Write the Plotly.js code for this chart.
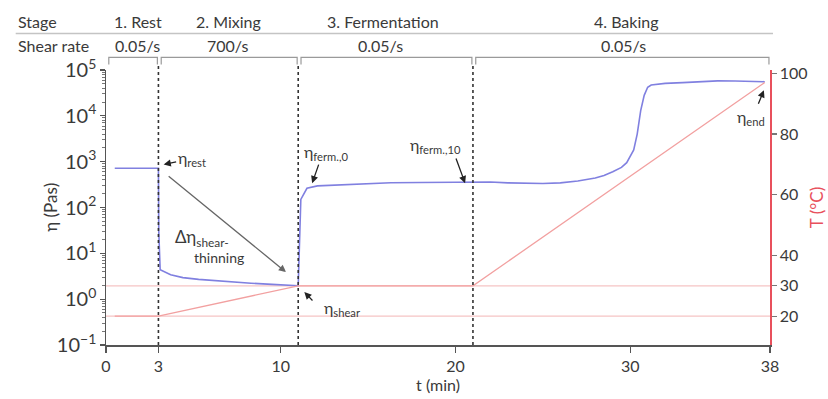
<!DOCTYPE html>
<html>
<head>
<meta charset="utf-8">
<script src="https://cdn.plot.ly/plotly-3.0.1.min.js"></script>
<style>
  html, body { margin: 0; padding: 0; background: #ffffff; }
  #chart { width: 828px; height: 399px; }
</style>
</head>
<body>
<div id="chart"></div>
<script>
// Dough viscosity and temperature over the rest / mixing / fermentation / baking protocol
const stageNames = ['1. Rest', '2. Mixing', '3. Fermentation', '4. Baking'];
const shearRates = ['0.05/s', '700/s', '0.05/s', '0.05/s'];
const stageBounds = [0, 3, 11, 21, 38];   // min

// viscosity eta (Pa·s) vs time (min)
const timeEta = [0.5, 1, 2, 3.0, 3.02, 3.1, 3.7, 4.4, 5.3, 6.4, 7.3, 8.3, 9.5, 10.95,
                 11.0, 11.15, 11.5, 12.1, 13, 14, 15, 16.3, 18, 20.1, 21, 22, 23, 24, 25,
                 26, 27, 28, 28.5, 29, 29.5, 29.8, 30, 30.2, 30.4, 30.6, 30.8, 31, 31.2,
                 31.5, 32, 33, 34, 35, 36, 37, 37.7];
const eta = [716, 716, 716, 716, 30, 4.4, 3.4, 2.95, 2.7, 2.5, 2.35, 2.23, 2.1, 1.96,
             1.96, 150, 263, 296, 305, 310, 325, 347, 350, 355, 358, 360, 345, 335, 335,
             345, 380, 440, 500, 600, 750, 950, 1300, 1800, 4000, 13000, 28000, 42000, 47000,
             49000, 51000, 53000, 55000, 58000, 57500, 56500, 55500];

// temperature (°C) vs time (min)
const timeTemp = [0.5, 3, 11, 21, 37.7];
const temp = [20, 20, 30, 30, 97];

// axis ticks (eta axis: one labelled tick per decade, from 10^-1 to 10^5)
const etaDecadeRange = [-1, 5];
const etaPlainLabels = ['1', '10'];                            // labels printed without exponent
const etaPowerLabels = ['10<sup>0</sup>', '10<sup>1</sup>'];   // shown instead
const tempTickVals = [20, 30, 40, 60, 80, 100];
const timeTickVals = [0, 3, 10, 20, 30, 38];
const tempGuides = [20, 30];

const FONT = 'Lato, "Open Sans", "DejaVu Sans", sans-serif';
const TXT = '#3a3a3a';
const RED = '#e8505c';
const lg = v => Math.log10(v);

const etaAlias = {};
etaPlainLabels.forEach((k, i) => { etaAlias[k] = etaPowerLabels[i]; });

const traces = [
  {
    x: timeEta, y: eta, type: 'scatter', mode: 'lines', yaxis: 'y',
    line: { color: '#8080e0', width: 1.6 }, hoverinfo: 'skip'
  },
  {
    x: timeTemp, y: temp, type: 'scatter', mode: 'lines', yaxis: 'y2',
    line: { color: '#f2a0a0', width: 1.3 }, hoverinfo: 'skip'
  }
];

const shapes = [];
// faint temperature guide lines
tempGuides.forEach(v => shapes.push({
  type: 'line', xref: 'paper', x0: 0, x1: 1, yref: 'y2', y0: v, y1: v,
  line: { color: '#f6c4c4', width: 1.2 }, layer: 'below'
}));
// stage boundaries
stageBounds.slice(1, -1).forEach(b => shapes.push({
  type: 'line', xref: 'x', x0: b, x1: b, yref: 'paper', y0: 0, y1: 1.025,
  line: { color: '#333333', width: 1.6, dash: 'dot' }
}));
// brackets above each stage
for (let i = 0; i < stageNames.length; i++) {
  const a = stageBounds[i] + 0.16, b = stageBounds[i + 1] - 0.06;
  shapes.push({
    type: 'path', xref: 'x', yref: 'paper',
    path: `M ${a} 1.02 L ${a} 1.046 L ${b} 1.046 L ${b} 1.02`,
    line: { color: '#9a9a9a', width: 1.2 }
  });
}
// rule under the stage row
shapes.push({
  type: 'line', xref: 'paper', yref: 'paper', x0: -0.136, x1: 1.0045, y0: 1.133, y1: 1.133,
  line: { color: '#c4c4c4', width: 1.4 }
});

const ann = [];
const headFont = { family: FONT, size: 16, color: TXT };
ann.push({ xref: 'paper', yref: 'paper', x: -0.136, y: 1.175, xanchor: 'left', yanchor: 'middle',
           text: 'Stage', showarrow: false, font: headFont });
ann.push({ xref: 'paper', yref: 'paper', x: -0.136, y: 1.09, xanchor: 'left', yanchor: 'middle',
           text: 'Shear rate', showarrow: false, font: headFont });
const stageCenters = [1.85, 7.0, 15.85, 29.8];
const rateCenters = [1.8, 6.95, 15.7, 29.6];
stageNames.forEach((s, i) => ann.push({ xref: 'x', yref: 'paper', x: stageCenters[i], y: 1.175,
  xanchor: 'center', yanchor: 'middle', text: s, showarrow: false, font: headFont }));
shearRates.forEach((s, i) => ann.push({ xref: 'x', yref: 'paper', x: rateCenters[i], y: 1.09,
  xanchor: 'center', yanchor: 'middle', text: s, showarrow: false, font: headFont }));

// left axis title, placed close to the tick labels
ann.push({ xref: 'paper', yref: 'paper', x: -0.084, y: 0.5, xanchor: 'center', yanchor: 'middle',
           textangle: -90, text: 'η (Pas)', showarrow: false,
           font: { family: FONT, size: 17, color: TXT } });

// marker labels (y in log10 units for the log axis)
const lblFont = { family: FONT, size: 16, color: TXT };
const arrow = (x, y, ax, ay, color) => ({
  xref: 'x', yref: 'y', axref: 'x', ayref: 'y', x: x, y: lg(y), ax: ax, ay: lg(ay), text: '',
  showarrow: true, arrowhead: 2, arrowsize: 1.1, arrowwidth: 1.3, arrowcolor: color || '#222'
});
const label = (x, y, text, size) => ({
  xref: 'x', yref: 'y', x: x, y: lg(y), text: text, showarrow: false,
  xanchor: 'center', yanchor: 'middle', font: Object.assign({}, lblFont, size ? { size: size } : {})
});
ann.push(arrow(3.3, 870, 4.1, 1000));
ann.push(label(4.95, 1200, 'η<sub>rest</sub>'));
ann.push(arrow(10.3, 3.9, 3.5, 510, '#666'));
ann.push(label(5.5, 22, 'Δη<sub>shear-</sub>', 17));
ann.push(label(6.45, 8.3, 'thinning', 14));
ann.push(arrow(11.35, 1.43, 11.9, 0.87));
ann.push(label(13.5, 0.64, 'η<sub>shear</sub>'));
ann.push(arrow(11.8, 340, 12.2, 930));
ann.push(label(12.6, 1550, 'η<sub>ferm.,0</sub>'));
ann.push(arrow(20.55, 340, 20.0, 1260));
ann.push(label(18.85, 2300, 'η<sub>ferm.,10</sub>'));
ann.push(arrow(37.65, 36000, 37.3, 17000));
ann.push(label(36.9, 9300, 'η<sub>end</sub>'));

const layout = {
  width: 828, height: 399,
  margin: { l: 105.5, r: 58, t: 70, b: 54 },
  paper_bgcolor: '#ffffff', plot_bgcolor: '#ffffff',
  showlegend: false,
  font: { family: FONT, size: 15, color: TXT },
  xaxis: {
    range: [0, 38], tickvals: timeTickVals, ticktext: timeTickVals.map(String),
    showgrid: false, zeroline: false, showline: true, linecolor: '#555', linewidth: 1.5,
    ticks: 'outside', ticklen: 6, tickcolor: '#555', tickwidth: 1.3,
    tickfont: { family: FONT, size: 16, color: TXT },
    title: { text: 't (min)', font: { family: FONT, size: 16, color: TXT }, standoff: 4 }
  },
  yaxis: {
    type: 'log', range: etaDecadeRange, tickmode: 'linear', tick0: 0, dtick: 1,
    exponentformat: 'power', showexponent: 'all', labelalias: etaAlias,
    showgrid: false, zeroline: false, showline: true, linecolor: '#555', linewidth: 1.5,
    ticks: 'outside', ticklen: 5, tickcolor: '#555', tickwidth: 1.3,
    minor: { ticks: 'outside', ticklen: 3, tickcolor: '#777', tickwidth: 1, dtick: 'D1', showgrid: false },
    tickfont: { family: FONT, size: 16, color: TXT }
  },
  yaxis2: {
    overlaying: 'y', side: 'right', range: [10.5, 101.1], tickvals: tempTickVals,
    showgrid: false, zeroline: false, showline: true, linecolor: RED, linewidth: 1.6,
    ticks: 'outside', ticklen: 5, tickcolor: '#777', tickwidth: 1.2,
    tickfont: { family: FONT, size: 16, color: TXT },
    title: { text: 'T (°C)', font: { family: FONT, size: 17, color: RED }, standoff: 4 }
  },
  shapes: shapes,
  annotations: ann
};

Plotly.newPlot('chart', traces, layout, { displayModeBar: false, staticPlot: true });
</script>
</body>
</html>
